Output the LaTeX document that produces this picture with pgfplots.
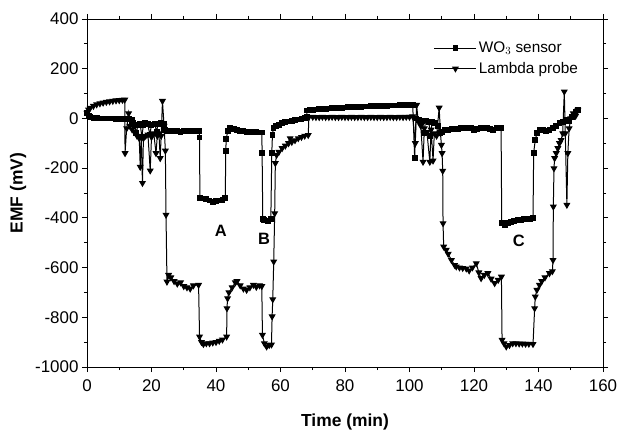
\documentclass[border=0pt]{standalone}
\usepackage{pgfplots}
\pgfplotsset{compat=1.18}
\usepackage{fontspec}
\setmainfont{Liberation Sans}

\begin{document}
\begin{tikzpicture}
\path[use as bounding box] (-87bp,-65bp) rectangle (544bp,367bp);
\begin{axis}[
    scale only axis,
    width=516bp, height=348bp,
    xmin=0, xmax=160,
    ymin=-1000, ymax=400,
    xtick distance=20, ytick distance=200,
    minor x tick num=1, minor y tick num=1,
    tick align=outside,
    major tick length=5bp, minor tick length=3bp,
    tick style={black, line width=0.8bp},
    axis line style={line width=0.9bp},
    /pgf/number format/assume math mode=true,
    /pgf/number format/1000 sep={},
    tick label style={font=\fontsize{17}{20}\selectfont},
    xticklabel style={yshift=-4bp},
    xlabel={\textbf{Time (min)}},
    ylabel={\textbf{EMF (mV)}},
    label style={font=\fontsize{17.5}{20}\selectfont},
    xlabel style={at={(axis description cs:0.5,0)}, anchor=center, yshift=-55bp},
    ylabel style={yshift=2bp},
    legend style={at={(0.672,0.94)}, anchor=north west, draw=none, fill=none,
        font=\fontsize{15.4}{18}\selectfont, inner sep=0pt, row sep=4bp,
        /tikz/every even column/.append style={column sep=2bp}},
    legend cell align=left,
    legend image code/.code={
        \draw[mark repeat=2, mark phase=2] plot coordinates {(0bp,0bp) (21bp,0bp) (42bp,0bp)};},
    clip=false,
]

% WO3 sensor
\addplot[black, line width=1bp, mark=square*, mark size=2.4bp] coordinates {
(0,22)(0.5,10)(1,5)(2,2)(3,1)(4,0)(5,0)(6,0)(7,0)(8,0)(9,-1)(10,-1)(11,-2)(12,-2)
(13,-3)(13.9,-5)(14.3,-20)(14.8,-25)(15.3,-60)(15.8,-25)(16.5,-22)(17,-75)(17.5,-25)
(18,-20)(18.8,-22)(19.5,-65)(20,-25)(21,-22)(21.6,-55)(22,-22)(23,-20)(23.8,-22)
(24.3,-45)(25,-50)(26,-50)(27,-52)(28,-50)(29,-53)(30,-52)(31,-50)(32,-52)(33,-50)
(34,-52)(34.8,-52)(34.9,-77)(35,-320)(36,-322)(37,-325)(38,-330)(39,-335)(40,-333)
(41,-330)(42,-328)(42.9,-320)(43.0,-130)(43.2,-84)(43.6,-50)(44.4,-40)(45.5,-42)
(46.5,-45)(47.5,-50)(48.5,-52)(49.5,-55)(50.5,-53)(51.5,-55)(52.5,-56)(53.5,-57)
(54.2,-57)(54.3,-138)(54.5,-405)(55,-410)(56,-412)(57,-406)(57.3,-140)(57.5,-67)
(57.8,-40)(58.5,-32)(59.5,-25)(60.5,-20)(61.5,-15)(62.5,-12)(63.5,-9)(64.5,-6)
(65.5,-4)(66.5,-2)(67.5,2)(68.1,5)(68.2,32)(69,34)(70,35)(71,36)(72,37)(73,38)
(74,39)(75,40)(76,41)(77,42)(78,43)(79,43)(80,44)(81,45)(82,45)(83,46)(84,46)
(85,47)(86,48)(87,48)(88,49)(89,49)(90,50)(91,50)(92,51)(93,51)(94,52)(95,52)
(96,52)(97,53)(98,53)(99,54)(100,54)(101,54)(101.6,-160)(102,0)(103,-5)(104,-10)
(104.5,-60)(105,-8)(106,-15)(106.5,-70)(107,-15)(108,-20)(108.8,-30)(109.4,-60)
(110,-55)(111,-48)(112,-45)(113,-44)(114,-42)(115,-42)(116,-40)(117,-38)(118,-38)
(119,-40)(120,-45)(121,-42)(122,-38)(123,-40)(124,-38)(125,-44)(126,-45)(127,-40)
(128.4,-40)(128.6,-422)(129.5,-428)(130.5,-420)(131.5,-416)(132.5,-412)(133.5,-410)
(134.5,-408)(135.5,-406)(136.5,-404)(137.5,-403)(138.3,-402)(138.5,-138)(139,-87)
(139.5,-60)(140.3,-46)(141.3,-48)(142.4,-50)(143.4,-45)(144.5,-38)(145.5,-30)
(146.5,-20)(147.5,-15)(148.6,-7)(149.5,-10)(150.5,5)(151.5,25)(152.3,33)
};
\addlegendentry{WO$_3$ sensor}

% Lambda probe
\addplot[black, line width=1bp, mark=triangle*, mark size=3.1bp, mark options={rotate=180}] coordinates {
(0,22)(0.5,35)(1,42)(2,50)(3,56)(4,60)(5,63)(6,66)(7,68)(8,70)(9,72)(10,73)(11,74)
(11.7,75)(11.8,-140)(12.3,-40)(12.9,20)(13.3,-30)(14,-45)(14.8,-55)(15.5,-70)
(16.2,-80)(16.5,-195)(16.8,-75)(17.2,-260)(17.5,-80)(18.2,-70)(18.9,-65)(19.6,-210)
(20,-75)(20.7,-60)(21.4,-140)(21.8,-70)(22.3,-60)(22.7,-160)(23,-70)(23.4,70)
(23.9,-30)(24.3,-130)(24.5,-388)(24.8,-657)(25.3,-630)(26,-640)(27,-655)(28,-665)
(29,-660)(30,-675)(31,-680)(32,-685)(33,-672)(34.6,-670)(34.9,-878)(35.5,-900)
(36.1,-908)(37,-905)(38,-905)(39,-902)(40,-900)(41,-895)(42,-890)(43.3,-878)
(43.4,-764)(43.6,-724)(44,-700)(45,-680)(46,-660)(46.5,-655)(47.5,-672)(48.5,-685)
(49.5,-690)(50.5,-680)(51.6,-670)(52.5,-678)(53.5,-672)(54.2,-675)(54.4,-871)
(55,-905)(55.7,-918)(56.5,-912)(57.2,-910)(57.4,-797)(57.6,-728)(57.9,-576)
(58.2,-382)(58.4,-180)(58.8,-147)(59.5,-135)(60.5,-120)(61.5,-110)(62.5,-100)
(63,-80)(63.5,-95)(64.5,-88)(65.5,-80)(66.5,-75)(67.5,-70)(68.6,-67)(68.8,5)
(70,6)(71,5)(72,5)(73,6)(74,5)(75,5)(76,6)(77,5)(78,5)(79,6)(80,5)(81,5)(82,6)
(83,5)(84,5)(85,6)(86,5)(87,5)(88,6)(89,5)(90,5)(91,6)(92,5)(93,5)(94,6)(95,5)
(96,5)(97,6)(98,5)(99,6)(100,6)(101,8)(101.8,-100)(102.2,54)(102.7,-10)(103.5,-30)
(104.2,-175)(104.6,-40)(105.4,-55)(106.3,-175)(106.7,-45)(107.3,-170)(107.7,-60)
(108.4,-70)(109.2,43)(109.6,-60)(109.9,-107)(110.1,-140)(110.3,-211)(110.4,-422)
(110.6,-516)(111.4,-529)(112,-545)(113,-570)(114,-590)(114.5,-596)(115.5,-600)
(116.5,-602)(117.6,-604)(118.5,-612)(119.5,-600)(120.7,-583)(121.5,-620)(122.2,-643)
(123.2,-630)(124.3,-623)(125.3,-645)(126.4,-663)(127.5,-650)(128.5,-637)(128.7,-891)
(129.3,-905)(130,-918)(131,-912)(132,-905)(133,-905)(134,-906)(135,-906)(136,-907)
(137,-907)(138.3,-908)(138.8,-764)(139,-717)(139.5,-690)(140.3,-670)(141,-655)
(142,-640)(143.4,-623)(144.3,-615)(144.5,-570)(144.6,-355)(144.8,-201)(145,-160)
(145.5,-140)(146,-120)(146.5,-100)(147,-87)(147.5,-60)(148,108)(148.3,-60)
(148.8,-348)(149.1,-140)(149.5,-40)(150,0)(150.8,20)(151.5,10)(152.2,34)
};
\addlegendentry{Lambda probe}

\node[font=\bfseries\fontsize{16.5}{18}\selectfont] at (axis cs:41.5,-453) {A};
\node[font=\bfseries\fontsize{16.5}{18}\selectfont] at (axis cs:54.9,-485) {B};
\node[font=\bfseries\fontsize{16.5}{18}\selectfont] at (axis cs:133.9,-492) {C};
\end{axis}
\end{tikzpicture}
\end{document}
